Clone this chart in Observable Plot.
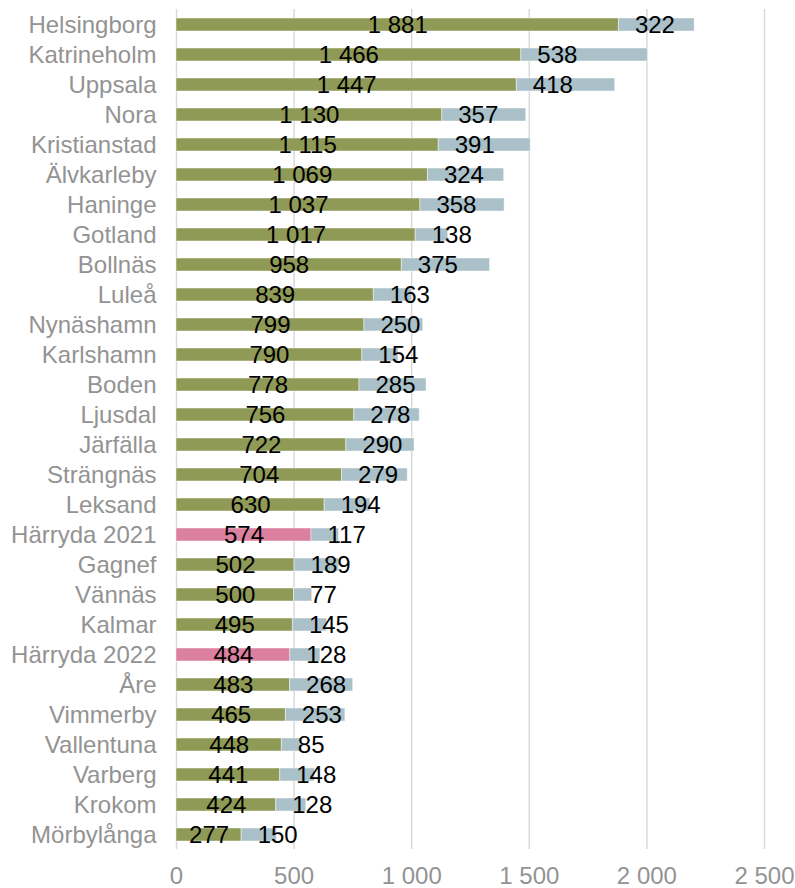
<!DOCTYPE html>
<html>
<head>
<meta charset="utf-8">
<script src="https://cdn.jsdelivr.net/npm/d3@7"></script>
<script src="https://cdn.jsdelivr.net/npm/@observablehq/plot@0.6"></script>
<style>
  body { margin: 0; background: #fff; }
  #chart svg { display: block; }
</style>
</head>
<body>
<div id="chart"></div>
<script>
const categories = ["Helsingborg","Katrineholm","Uppsala","Nora","Kristianstad","Älvkarleby","Haninge","Gotland","Bollnäs","Luleå","Nynäshamn","Karlshamn","Boden","Ljusdal","Järfälla","Strängnäs","Leksand","Härryda 2021","Gagnef","Vännäs","Kalmar","Härryda 2022","Åre","Vimmerby","Vallentuna","Varberg","Krokom","Mörbylånga"];
const series1 = [1881,1466,1447,1130,1115,1069,1037,1017,958,839,799,790,778,756,722,704,630,574,502,500,495,484,483,465,448,441,424,277];
const series2 = [322,538,418,357,391,324,358,138,375,163,250,154,285,278,290,279,194,117,189,77,145,128,268,253,85,148,128,150];
const highlighted = ["Härryda 2021","Härryda 2022"];
const xTicks = [0,500,1000,1500,2000,2500];

const locale = d3.formatLocale({decimal: ",", thousands: "\u00a0", grouping: [3], currency: ["", ""]});
const fmt = locale.format(",d");

const first = categories.map((c, i) => ({cat: c, x1: 0, x2: series1[i], v: series1[i],
  fill: highlighted.includes(c) ? "#db809f" : "#8f9a56"}));
const second = categories.map((c, i) => ({cat: c, x1: series1[i], x2: series1[i] + series2[i], v: series2[i],
  fill: "#aac1c9"}));

const FONT = "Liberation Sans, Arial, sans-serif";

const chart = Plot.plot({
  width: 795,
  height: 888,
  marginLeft: 176,
  marginRight: 31,
  marginTop: 9,
  marginBottom: 39,
  style: {fontFamily: FONT, fontSize: "24px", background: "#fff"},
  x: {domain: [0, 2500], ticks: xTicks, tickFormat: fmt, tickSize: 0, tickPadding: 17, label: null},
  y: {domain: categories, paddingInner: 0.57, paddingOuter: 0.285, tickSize: 0, tickPadding: 20, label: null},
  marks: [
    Plot.ruleX(xTicks, {stroke: "#d9d9d9", strokeWidth: 1.5}),
    Plot.barX(first, {y: "cat", x1: "x1", x2: "x2", fill: "fill", stroke: "#ffffff", strokeOpacity: 0.45, strokeWidth: 1}),
    Plot.barX(second, {y: "cat", x1: "x1", x2: "x2", fill: "fill", stroke: "#ffffff", strokeOpacity: 0.45, strokeWidth: 1}),
    Plot.text(first, {y: "cat", x: d => d.x2 / 2, text: d => fmt(d.v), fill: "#000", fontSize: 24, textAnchor: "middle"}),
    Plot.text(second, {y: "cat", x: "x1", dx: 16, text: d => fmt(d.v), fill: "#000", fontSize: 24, textAnchor: "start"}),
    Plot.axisX({ticks: xTicks, tickFormat: fmt, tickSize: 0, tickPadding: 17, stroke: null, color: "#939393", fontSize: 24}),
    Plot.axisY({tickSize: 0, tickPadding: 20, color: "#939393", fontSize: 24})
  ]
});
document.getElementById("chart").appendChild(chart);
</script>
</body>
</html>
